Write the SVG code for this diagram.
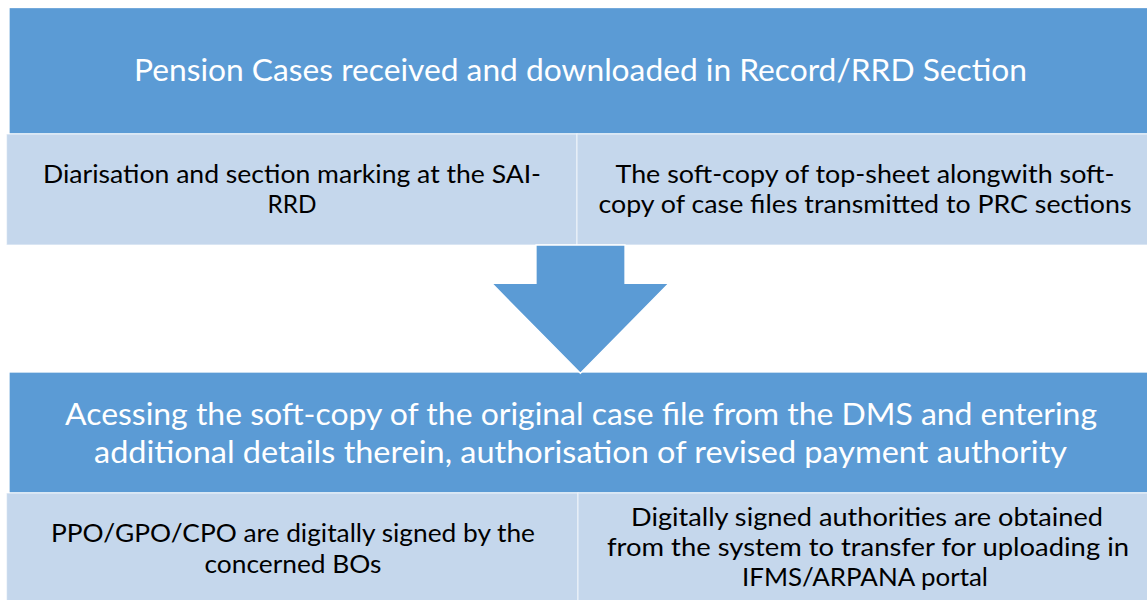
<svg xmlns="http://www.w3.org/2000/svg" width="1147" height="600" viewBox="0 0 1147 600">
  <style>
    .dark { fill: #5B9BD5; stroke: #FFFFFF; stroke-width: 1.3; }
    .light { fill: #C5D7EC; stroke: #FFFFFF; stroke-opacity: 0.55; stroke-width: 1.3; }
    .arrow { fill: #5B9BD5; stroke: #FFFFFF; stroke-width: 1.3; stroke-linejoin: miter; }
    .title { font-family: Lato, "Open Sans", "Liberation Sans", sans-serif; font-size: 30px; fill: #FFFFFF; text-anchor: middle; }
    .body { font-family: Lato, "Open Sans", "Liberation Sans", sans-serif; font-size: 25px; fill: #000000; text-anchor: middle; }
  </style>

  <g id="stage1-header">
    <rect class="dark" x="9" y="7.5" width="1150" height="126.5"/>
    <text class="title" x="580.5" y="81" textLength="893" lengthAdjust="spacingAndGlyphs">Pension Cases received and downloaded in Record/RRD Section</text>
  </g>

  <g id="stage1-diarisation">
    <rect class="light" x="6.5" y="134" width="570.5" height="111"/>
    <text class="body" x="292" y="182.5" textLength="498" lengthAdjust="spacingAndGlyphs">Diarisation and section marking at the SAI-</text>
    <text class="body" x="292" y="212.5" textLength="49" lengthAdjust="spacingAndGlyphs">RRD</text>
  </g>

  <g id="stage1-softcopy">
    <rect class="light" x="577" y="134" width="580" height="111"/>
    <text class="body" x="865" y="182.5" textLength="499" lengthAdjust="spacingAndGlyphs">The soft-copy of top-sheet alongwith soft-</text>
    <text class="body" x="865" y="212.5" textLength="533" lengthAdjust="spacingAndGlyphs">copy of case files transmitted to PRC sections</text>
  </g>

  <g id="stage2-header">
    <rect class="dark" x="9" y="372" width="1150" height="121"/>
    <text class="title" x="581" y="425" textLength="1032" lengthAdjust="spacingAndGlyphs">Acessing the soft-copy of the original case file from the DMS and entering</text>
    <text class="title" x="580.5" y="462.5" textLength="973" lengthAdjust="spacingAndGlyphs">additional details therein, authorisation of revised payment authority</text>
  </g>

  <g id="stage2-signing">
    <rect class="light" x="6.5" y="493" width="571.5" height="130"/>
    <text class="body" x="293" y="542.3" textLength="484" lengthAdjust="spacingAndGlyphs">PPO/GPO/CPO are digitally signed by the</text>
    <text class="body" x="293" y="572.5" textLength="177" lengthAdjust="spacingAndGlyphs">concerned BOs</text>
  </g>

  <g id="stage2-transfer">
    <rect class="light" x="578" y="493" width="580" height="130"/>
    <text class="body" x="867" y="526" textLength="472" lengthAdjust="spacingAndGlyphs">Digitally signed authorities are obtained</text>
    <text class="body" x="868" y="556" textLength="522" lengthAdjust="spacingAndGlyphs">from the system to transfer for uploading in</text>
    <text class="body" x="865" y="586" textLength="246" lengthAdjust="spacingAndGlyphs">IFMS/ARPANA portal</text>
  </g>

  <g id="connectors">
    <polygon class="arrow" points="536,245 625,245 625,283.3 669,283.3 580.4,373.3 491.7,283.3 536,283.3"/>
  </g>
</svg>
